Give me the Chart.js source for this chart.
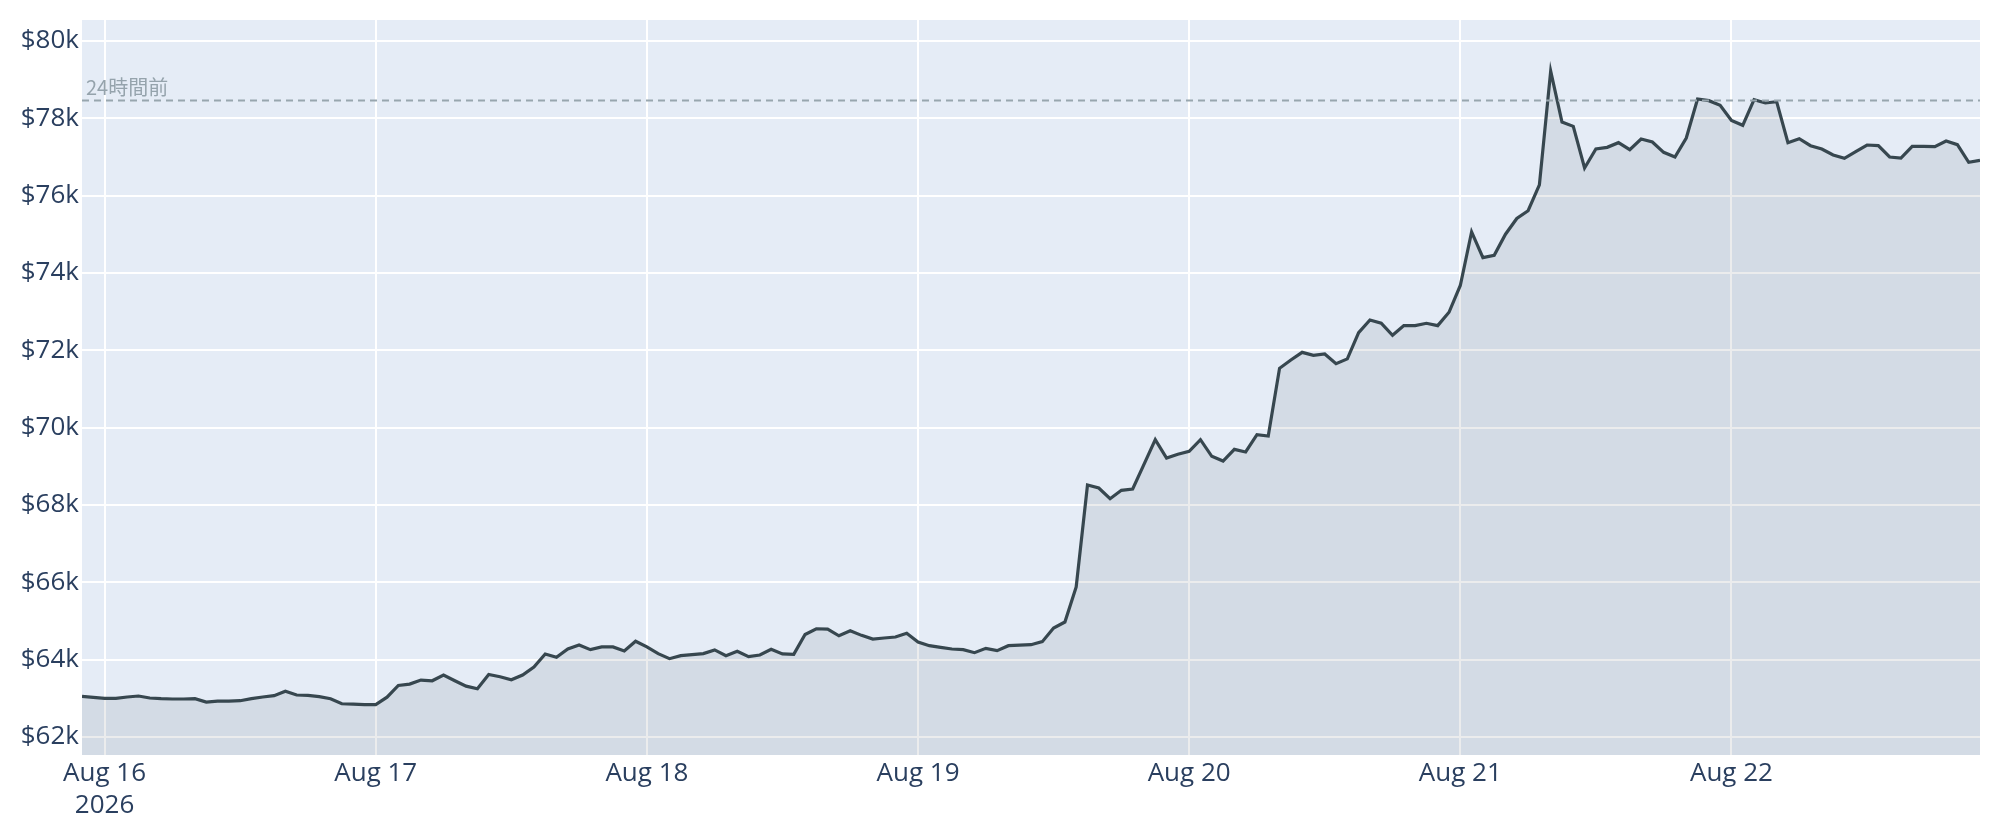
<!DOCTYPE html>
<html>
<head>
<meta charset="utf-8">
<script src="https://cdn.jsdelivr.net/npm/chart.js@4.4.1/dist/chart.umd.min.js"></script>
<style>
html, body { margin: 0; padding: 0; background: #fff; }
#priceChart { display: block; }
</style>
</head>
<body>
<canvas id="priceChart" width="2000" height="840"></canvas>
<script>
// 時間軸: Aug 16 00:00 からの経過時間（1時間ごと）
const firstHour = -2;

// 1時間ごとの価格 (USD)
const prices = [
    63052, 63026,
    // Aug 16
    63000, 63000, 63035, 63061, 63009, 62991, 62983, 62983, 62991, 62904, 62930, 62930,
    62939, 62991, 63035, 63070, 63183, 63087, 63078, 63043, 62990, 62860, 62850, 62840,
    // Aug 17
    62840, 63030, 63333, 63368, 63472, 63455, 63602, 63455, 63316, 63247, 63619, 63558,
    63481, 63602, 63810, 64147, 64061, 64277, 64378, 64260, 64330, 64330, 64226, 64478,
    // Aug 18
    64330, 64157, 64026, 64104, 64130, 64157, 64252, 64104, 64217, 64078, 64122, 64270,
    64148, 64139, 64652, 64800, 64792, 64618, 64750, 64629, 64534, 64560, 64586, 64681,
    // Aug 19
    64457, 64362, 64319, 64276, 64259, 64181, 64293, 64233, 64362, 64379, 64388, 64466,
    64819, 64974, 65879, 68517, 68440, 68164, 68380, 68414, 69050, 69690, 69216, 69311,
    // Aug 20
    69388, 69690, 69259, 69138, 69440, 69371, 69819, 69785, 71535, 71750, 71948, 71871,
    71905, 71655, 71780, 72456, 72786, 72700, 72388, 72639, 72639, 72700, 72639, 72985,
    // Aug 21
    73678, 75064, 74397, 74458, 75003, 75410, 75610, 76277, 79221, 77904, 77792, 76716,
    77207, 77250, 77371, 77190, 77466, 77388, 77121, 77000, 77491, 78500, 78457, 78336,
    // Aug 22
    77948, 77819, 78483, 78397, 78431, 77370, 77474, 77293, 77207, 77052, 76966, 77138,
    77310, 77293, 77000, 76974, 77276, 77276, 77267, 77414, 77319, 76862, 76914
];

const dayTicks = [0, 24, 48, 72, 96, 120, 144];
const dayLabels = [["Aug 16", "2026"], "Aug 17", "Aug 18", "Aug 19", "Aug 20", "Aug 21", "Aug 22"];
const priceTicks = [62000, 64000, 66000, 68000, 70000, 72000, 74000, 76000, 78000, 80000];
const refPrice = 78460;
const refLabel = "24時間前";
const yMin = 61535;
const yMax = 80543;

const points = prices.map(function(p, i) {
    return { x: firstHour + i, y: p };
});

const tickColor = '#2a3f5f';
const tickFont = { family: '"Open Sans", "Noto Sans", sans-serif', size: 26, lineHeight: 1.22 };

// プロット背景
const plotBg = {
    id: 'plotBg',
    beforeDraw: function(chart) {
        const ctx = chart.ctx, a = chart.chartArea;
        ctx.save();
        ctx.fillStyle = '#e5ecf6';
        ctx.fillRect(a.left, a.top, a.right - a.left, a.bottom - a.top);
        ctx.restore();
    }
};

// 24時間前の基準線
const refLine = {
    id: 'refLine',
    afterDatasetsDraw: function(chart) {
        const ctx = chart.ctx, a = chart.chartArea;
        const py = chart.scales.y.getPixelForValue(refPrice);
        ctx.save();
        ctx.strokeStyle = '#98a6ae';
        ctx.lineWidth = 2;
        ctx.setLineDash([7, 5]);
        ctx.beginPath();
        ctx.moveTo(a.left, py);
        ctx.lineTo(a.right, py);
        ctx.stroke();
        ctx.setLineDash([]);
        ctx.fillStyle = '#95a3ac';
        ctx.font = '20px "Noto Sans CJK JP", sans-serif';
        ctx.textBaseline = 'alphabetic';
        ctx.fillText(refLabel, a.left + 4, py - 6);
        ctx.restore();
    }
};

new Chart(document.getElementById('priceChart'), {
    type: 'line',
    data: {
        datasets: [{
            data: points,
            borderColor: '#37474f',
            borderWidth: 3.2,
            backgroundColor: 'rgba(55,71,79,0.1)',
            fill: 'start',
            pointRadius: 0,
            tension: 0
        }]
    },
    options: {
        responsive: false,
        devicePixelRatio: 1,
        animation: false,
        layout: { padding: { left: 0, right: 20, top: 20, bottom: 0 } },
        plugins: {
            legend: { display: false },
            tooltip: { enabled: false }
        },
        scales: {
            x: {
                type: 'linear',
                min: firstHour,
                max: firstHour + prices.length - 1,
                afterBuildTicks: function(s) {
                    s.ticks = dayTicks.map(function(v) { return { value: v }; });
                },
                afterFit: function(s) { s.height = 85; },
                grid: { color: '#ffffff', lineWidth: 2, drawTicks: false },
                border: { display: false },
                ticks: {
                    autoSkip: false,
                    maxRotation: 0,
                    padding: 3,
                    color: tickColor,
                    font: tickFont,
                    callback: function(v) { return dayLabels[dayTicks.indexOf(v)]; }
                }
            },
            y: {
                min: yMin,
                max: yMax,
                afterBuildTicks: function(s) {
                    s.ticks = priceTicks.map(function(v) { return { value: v }; });
                },
                afterFit: function(s) { s.width = 82; },
                grid: { color: '#ffffff', lineWidth: 2, drawTicks: false },
                border: { display: false },
                ticks: {
                    padding: 3,
                    color: tickColor,
                    font: tickFont,
                    callback: function(v) { return '$' + (v / 1000) + 'k'; }
                }
            }
        }
    },
    plugins: [plotBg, refLine]
});
</script>
</body>
</html>
